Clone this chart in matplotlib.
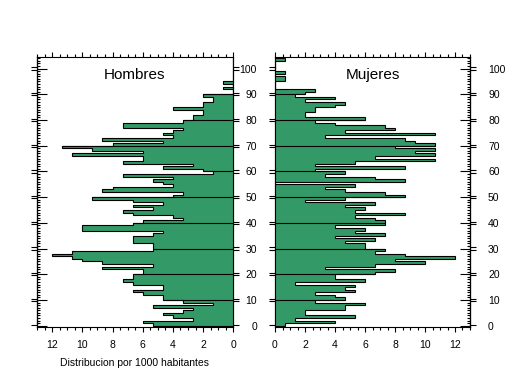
import matplotlib
matplotlib.use('Agg')
import matplotlib.pyplot as plt
import numpy as np

plt.rcParams['font.family'] = ['Liberation Sans', 'DejaVu Sans']

# limites de cada grupo de edad (0..104), un valor por edad 0..103
edades = np.arange(0, 105)

hombres = [5.33, 6.0, 2.67, 4.0, 4.67, 3.33, 2.67, 5.33, 1.33, 3.33,
           4.67, 4.67, 6.0, 6.67, 4.67, 4.67, 6.67, 7.33, 6.67, 6.67,
           6.0, 6.0, 8.67, 5.33, 8.67, 10.0, 10.67, 12.0, 10.67, 5.33,
           5.33, 5.33, 6.67, 6.67, 6.67, 5.33, 4.67, 10.0, 10.0, 6.67,
           6.0, 3.33, 4.0, 6.67, 7.33, 5.33, 6.67, 4.67, 6.67, 9.33,
           4.0, 3.33, 8.67, 8.0, 4.0, 4.67, 5.33, 4.0, 7.33, 1.33,
           2.0, 4.67, 2.67, 7.33, 6.0, 6.0, 10.67, 6.0, 9.33, 11.33,
           8.0, 4.67, 8.67, 4.0, 4.67, 4.0, 3.33, 7.33, 7.33, 3.33,
           2.67, 2.67, 2.0, 2.0, 4.0, 2.0, 2.0, 1.33, 1.33, 2.0,
           0, 0, 0.67, 0, 0.67, 0, 0, 0, 0, 0,
           0, 0, 0, 0]

mujeres = [0.67, 4.0, 1.33, 5.33, 2.0, 2.0, 4.67, 4.67, 6.0, 2.67,
           4.67, 4.0, 2.67, 5.33, 4.67, 5.33, 1.33, 6.0, 4.0, 4.0,
           6.67, 8.0, 3.33, 6.67, 10.0, 8.0, 12.0, 8.67, 6.67, 7.33,
           6.0, 6.0, 4.67, 6.67, 4.0, 7.33, 5.33, 6.0, 4.0, 7.33,
           7.33, 6.67, 5.33, 8.67, 5.33, 6.0, 4.67, 6.67, 2.0, 4.67,
           8.67, 7.33, 4.67, 3.33, 5.33, 0, 8.67, 6.67, 3.33, 4.67,
           2.67, 8.67, 2.67, 5.33, 10.67, 6.67, 10.67, 9.33, 10.67, 8.0,
           10.67, 9.33, 8.67, 3.33, 10.67, 4.67, 8.0, 7.33, 4.0, 2.67,
           6.0, 2.0, 2.0, 2.67, 2.67, 4.0, 4.67, 2.0, 4.0, 1.33,
           2.0, 2.67, 0, 0, 0, 0.67, 0.67, 0, 0.67, 0,
           0, 0, 0, 0.67]

x_ticks = [0, 2, 4, 6, 8, 10, 12]
y_ticks = [0, 10, 20, 30, 40, 50, 60, 70, 80, 90, 100]

verde = '#339966'
W, H = 509, 376


def caja(x0, y0, x1, y1):
    # pixel box -> figure fraction
    return [x0 / W, 1 - y1 / H, (x1 - x0) / W, (y1 - y0) / H]


def dibujar(ax, valores):
    ax.stairs(valores, edades, orientation='horizontal', baseline=0,
              fill=True, facecolor=verde, edgecolor='none')
    ax.stairs(valores, edades, orientation='horizontal', baseline=0,
              fill=False, color='black', lw=0.8)
    for d in y_ticks[1:-1]:
        ax.hlines(d, 0, max(valores[d - 1], valores[d]), color='black', lw=0.8)
    ax.set_ylim(-0.4, 104.4)
    for s in ax.spines.values():
        s.set_linewidth(0.8)


def ticks_x(ax, etiquetas):
    ax.set_xticks(x_ticks)
    ax.set_xticklabels(etiquetas)
    ax.set_xticks(np.arange(0, 13.01, 0.5), minor=True)
    ax.tick_params(axis='x', which='both', top=True, direction='out', width=0.8)
    ax.tick_params(axis='x', which='major', length=3.5, pad=6, labelsize=7.5)
    ax.tick_params(axis='x', which='minor', length=2)


def dobles(ax, lado):
    # the double "=" marks at every 10 years
    sec = ax.secondary_yaxis(lado)
    sec.set_yticks([d + s for d in y_ticks for s in (-0.45, 0.45)])
    sec.tick_params(direction='out', length=4, width=0.8, labelleft=False, labelright=False)
    sec.spines[lado].set_linewidth(0.8)
    return sec


def ticks_dentro(ax, lado):
    sec = ax.secondary_yaxis(lado)
    sec.set_yticks(y_ticks)
    sec.set_yticks(np.arange(0, 105), minor=True)
    sec.tick_params(which='major', direction='in', length=7, width=0.8,
                    labelleft=False, labelright=False)
    sec.tick_params(which='minor', direction='in', length=2, width=0.8)
    return sec


fig = plt.figure(figsize=(W / 100, H / 100), dpi=100)

# Hombres
ax1 = fig.add_axes(caja(37, 57.3, 233.3, 326.7))
dibujar(ax1, hombres)
ax1.set_xlim(12.97, 0)
ticks_x(ax1, [str(t) for t in x_ticks])
ax1.set_yticks([])
ticks_dentro(ax1, 'left')
dobles(ax1, 'left')
dobles(ax1, 'right')

# Mujeres
ax2 = fig.add_axes(caja(275, 57.3, 470, 326.7))
dibujar(ax2, mujeres)
ax2.set_xlim(0, 12.84)
ticks_x(ax2, [str(t) for t in x_ticks])
ax2.set_yticks(y_ticks)
ax2.tick_params(axis='y', length=0, labelleft=True, labelright=True, labelsize=7.5)
for lab in ax2.get_yticklabels():
    lab.set_fontsize(7.5)
ax2.yaxis.set_tick_params(pad=13)
ticks_dentro(ax2, 'right')
dobles(ax2, 'left')
dobles(ax2, 'right')

fig.text(134.7 / W, 1 - 75 / H, 'Hombres', ha='center', va='center', fontsize=11)
fig.text(372.5 / W, 1 - 75 / H, 'Mujeres', ha='center', va='center', fontsize=11)
fig.text(134.2 / W, 1 - 362.5 / H, 'Distribucion por 1000 habitantes',
         ha='center', va='center', fontsize=7.5)

fig.savefig('out.png', dpi=100)
